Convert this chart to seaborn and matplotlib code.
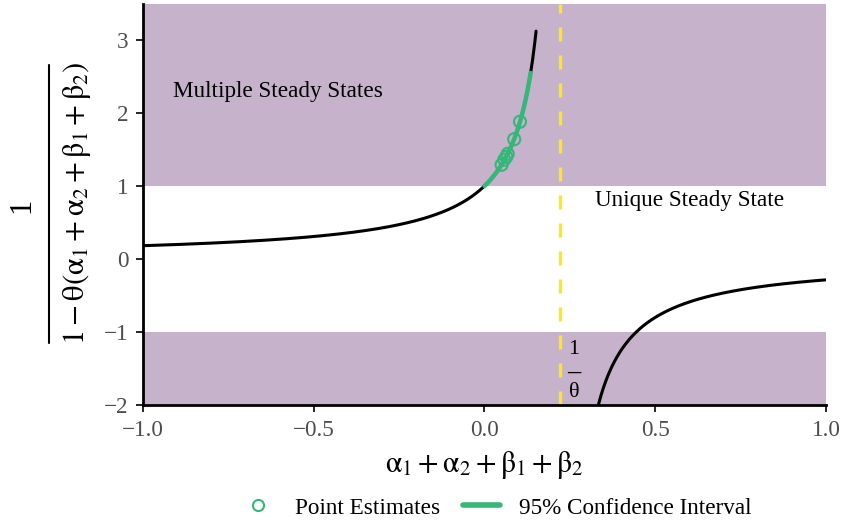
import numpy as np
import pandas as pd
import matplotlib
matplotlib.use("Agg")
import matplotlib.pyplot as plt
from matplotlib.lines import Line2D
import seaborn as sns

# ---- chart values ----
theta = 4.5                       # 1/theta ~ 0.222 (dashed line)
x_lower = np.linspace(-1.0, 0.151, 300)   # left branch of the curve
x_upper = np.linspace(0.3334, 1.0, 300)   # right branch of the curve
ci_low, ci_high = 0.0, 0.135              # 95% confidence interval of the sum
est_x = [0.050, 0.058, 0.064, 0.068, 0.087, 0.104]
est_y = [1.29, 1.36, 1.40, 1.44, 1.64, 1.88]
x_ticks = [-1.0, -0.5, 0.0, 0.5, 1.0]
y_ticks = [-2, -1, 0, 1, 2, 3]

purple = "#440154"
green = "#35B779"
yellow = "#FDE725"

sns.set_theme(style="ticks")
plt.rcParams["font.family"] = ["Liberation Serif", "DejaVu Serif"]
plt.rcParams["mathtext.fontset"] = "stix"
plt.rcParams["text.color"] = "black"
plt.rcParams["axes.labelcolor"] = "black"


def curve(x):
    return 1.0 / (1.0 - theta * x)


lower = pd.DataFrame({"x": x_lower, "y": curve(x_lower)})
upper = pd.DataFrame({"x": x_upper, "y": curve(x_upper)})
x_ci = np.linspace(ci_low, ci_high, 100)
ci = pd.DataFrame({"x": x_ci, "y": curve(x_ci)})
est = pd.DataFrame({"x": est_x, "y": est_y})

W, H = 844, 522
fig = plt.figure(figsize=(W / 100, H / 100), dpi=100)
ax = fig.add_axes([0.1694, 0.2241, 0.8093, 0.768])

y_top = 3.49
ax.axhspan(1, y_top, color=purple, alpha=0.3, lw=0)
ax.axhspan(-2, -1, color=purple, alpha=0.3, lw=0)
ax.axvline(1 / theta, color=yellow, lw=2.4, ls=(0, (4.2, 4.2)))

sns.lineplot(data=lower, x="x", y="y", ax=ax, color="black", lw=2.2, sort=False)
sns.lineplot(data=upper, x="x", y="y", ax=ax, color="black", lw=2.2, sort=False)
sns.lineplot(data=ci, x="x", y="y", ax=ax, color=green, lw=3.2, sort=False)
sns.scatterplot(data=est, x="x", y="y", ax=ax, facecolor="none",
                edgecolor=green, s=75, linewidth=1.5, marker="o")

ax.text(-0.912, 2.29, "Multiple Steady States", fontsize=16.7, va="center")
ax.text(0.323, 0.8, "Unique Steady State", fontsize=16.7, va="center")

# 1/theta label next to the dashed line
ax.text(0.262, -1.233, "1", fontsize=16, ha="center", va="center")
ax.text(0.262, -1.548, "\u2013", fontsize=19, fontweight="bold",
        ha="center", va="center")
ax.text(0.264, -1.822, "θ", fontsize=16, ha="center", va="center")

ax.set_xlim(-1, 1)
ax.set_ylim(-2, y_top)
ax.set_xticks(x_ticks)
ax.set_xticklabels(["\u22121.0", "\u22120.5", "0.0", "0.5", "1.0"])
ax.set_yticks(y_ticks)
ax.set_yticklabels(["\u22122", "\u22121", "0", "1", "2", "3"])
ax.tick_params(axis="both", labelsize=16.7, labelcolor="#4D4D4D",
               color="black", length=5, width=1.2, pad=5.5)

ax.set_xlabel(r"$\mathrm{α}_1+\mathrm{α}_2+\mathrm{β}_1+\mathrm{β}_2$",
              fontsize=21.5, labelpad=6)
ax.set_ylabel("")

# y label: 1 / (1 - theta(a1 + a2 + b1 + b2)) built as a stacked fraction
fig.text(22 / W, 1 - 205 / H, "1", rotation=90, fontsize=22,
         ha="center", va="center")
fig.add_artist(Line2D([49 / W, 49 / W], [1 - 65 / H, 1 - 343 / H],
                      transform=fig.transFigure, color="black", lw=1.5))
fig.text(77 / W, 1 - 203 / H,
         r"$1-\mathrm{θ}(\mathrm{α}_1+\mathrm{α}_2+\mathrm{β}_1+\mathrm{β}_2)$",
         rotation=90, fontsize=22, ha="center", va="center")

sns.despine(ax=ax)
for side in ["left", "bottom"]:
    ax.spines[side].set_color("black")
    ax.spines[side].set_linewidth(2)

handles = [
    Line2D([], [], marker="o", ls="none", markerfacecolor="none",
           markeredgecolor=green, markersize=8, markeredgewidth=1.5),
    Line2D([], [], color=green, lw=4),
]
fig.legend(handles, ["Point Estimates", "95% Confidence Interval"],
           loc="center", bbox_to_anchor=(0.587, 0.027), ncol=2, frameon=False,
           fontsize=16.7, handlelength=1.6, columnspacing=1.0, handletextpad=0.8)

fig.savefig("out.png", dpi=100)
